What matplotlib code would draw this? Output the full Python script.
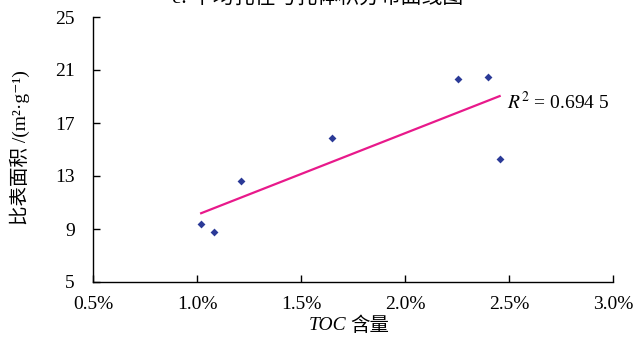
import numpy as np
import matplotlib
matplotlib.use("Agg")
import matplotlib.pyplot as plt
from matplotlib.ticker import FuncFormatter

plt.rcParams['font.family'] = ['Liberation Serif', 'Noto Sans CJK SC', 'DejaVu Serif', 'DejaVu Sans']
plt.rcParams['mathtext.fontset'] = 'stix'

# Data
toc = [1.02, 1.08, 1.21, 1.65, 2.255, 2.40, 2.455]          # TOC content (%)
ssa = [9.40, 8.77, 12.62, 15.85, 20.32, 20.49, 14.26]        # specific surface area (m2/g)
x_ticks = [0.5, 1.0, 1.5, 2.0, 2.5, 3.0]
y_ticks = [5, 9, 13, 17, 21, 25]
r2_text = r'$R^2$ = 0.694 5'
title = 'e. 平均孔径与孔体积分布曲线图'

fig = plt.figure(figsize=(6.36, 3.39), dpi=100)
ax = fig.add_axes([93/636, 1-282/339, (613-93)/636, (282-17)/339])

ax.scatter(toc, ssa, marker='D', s=16, color='#2B3A97', zorder=3, linewidths=0)

coef = np.polyfit(toc, ssa, 1)
xl = np.array([min(toc), max(toc)])
ax.plot(xl, np.polyval(coef, xl), color='#E8198B', lw=1.6, zorder=2)

ax.set_xlim(0.5, 3.0)
ax.set_ylim(5, 25)
ax.set_xticks(x_ticks)
ax.set_yticks(y_ticks)
ax.xaxis.set_major_formatter(FuncFormatter(lambda v, p: f'{v:.1f}%'))
ax.tick_params(direction='in', length=5, width=1, labelsize=14)
ax.tick_params(axis='y', pad=13)
ax.tick_params(axis='x', pad=10)
for s in ['top', 'right']:
    ax.spines[s].set_visible(False)
for s in ['left', 'bottom']:
    ax.spines[s].set_linewidth(1)

# x label: italic TOC + 含量
fig.text(346/636, 1-326/339, 'TOC', fontsize=14, style='italic', ha='right', va='center')
fig.text(350/636, 1-326/339, '含量', fontsize=14, ha='left', va='center')

# y label
fig.text(20/636, 1-148/339, '比表面积 /(m²·g⁻¹)', fontsize=14, rotation=90,
         ha='center', va='center')

ax.text(2.49, 18.6, r2_text, fontsize=14, va='center', ha='left')

fig.text(0.5, 1-9/339, title, fontsize=15, ha='center', va='bottom')

fig.savefig('out.png', dpi=100)
